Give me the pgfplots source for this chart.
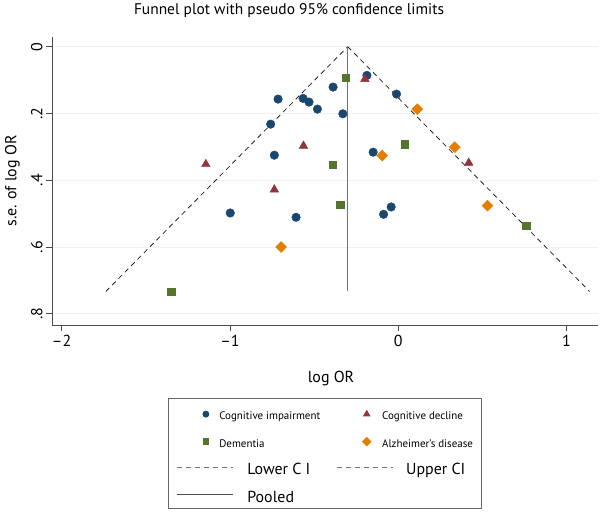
\documentclass[border=0pt]{standalone}
\usepackage{pgfplots}
\pgfplotsset{compat=1.18}
\usepackage{fontspec}
\setmainfont{PT Sans}
\definecolor{cnavy}{RGB}{26,71,111}
\definecolor{cmaroon}{RGB}{144,53,59}
\definecolor{cgreen}{RGB}{85,117,47}
\definecolor{corange}{RGB}{227,126,0}
\definecolor{gridc}{RGB}{234,242,243}
\begin{document}
\begin{tikzpicture}[x=1bp,y=1bp]
\useasboundingbox (0,0) rectangle (600,512);
\begin{axis}[
  at={(52bp,186.5bp)}, anchor=south west,
  scale only axis, width=546bp, height=288.5bp,
  xmin=-2.057, xmax=1.187, ymin=-0.029, ymax=0.835,
  y dir=reverse,
  axis x line=bottom, axis y line=left,
  axis line style={-, black!70, line width=0.8bp},
  tick align=outside, major tick length=6bp,
  tick style={black!70, line width=0.8bp},
  xtick={-2,-1,0,1}, xticklabels={--2,--1,0,1},
  ytick={0,0.2,0.4,0.6,0.8}, yticklabels={0,.2,.4,.6,.8},
  ymajorgrids, grid style={gridc, line width=0.8bp},
  tick label style={font=\fontsize{16}{16}\selectfont},
  yticklabel style={rotate=90, anchor=south},
  clip=false,
  legend columns=2, legend cell align=left,
  legend style={at={(0.2125,-0.2513)}, anchor=north west, draw=black!60,
    line width=0.8bp, inner xsep=8bp, inner ysep=0bp, column sep=0bp, row sep=0bp,
    nodes={inner sep=0bp, text height=21.5bp, text depth=6bp}},
]
\addplot[only marks, mark=*, mark size=4.3bp, cnavy,
  legend image code/.code={\path[draw=none] (0bp,0bp) -- (56bp,0bp);
    \draw[cnavy] plot[only marks, mark=*, mark size=3bp] coordinates {(29bp,-2bp)};}]
coordinates {
(-0.714,0.157) (-0.565,0.155) (-0.530,0.166) (-0.480,0.187) (-0.758,0.232)
(-0.736,0.325) (-0.186,0.086) (-0.387,0.121) (-0.329,0.201) (-0.010,0.142)
(-0.149,0.316) (-0.998,0.498) (-0.607,0.511) (-0.087,0.502) (-0.042,0.480)
};
\addlegendentry{\makebox[103bp][l]{\hspace*{-14bp}\fontsize{11}{11}\selectfont Cognitive impairment}}
\addplot[only marks, mark=triangle*, mark size=5bp, cmaroon,
  legend image code/.code={\path[draw=none] (0bp,0bp) -- (56bp,0bp);
    \draw[cmaroon] plot[only marks, mark=triangle*, mark size=3.6bp] coordinates {(30bp,-2bp)};}]
coordinates {
(-0.563,0.297) (-1.143,0.352) (-0.736,0.428) (-0.198,0.097) (0.419,0.348)
};
\addlegendentry{\makebox[80bp][l]{\hspace*{-11bp}\fontsize{11}{11}\selectfont Cognitive decline}}
\addplot[only marks, mark=square*, mark size=3.6bp, cgreen,
  legend image code/.code={\path[draw=none] (0bp,0bp) -- (56bp,0bp);
    \draw[cgreen] plot[only marks, mark=square*, mark size=2.8bp] coordinates {(29bp,-2bp)};}]
coordinates {
(-0.313,0.093) (0.040,0.292) (-0.387,0.353) (-1.349,0.733) (-0.345,0.474) (0.760,0.536)
};
\addlegendentry{\makebox[103bp][l]{\hspace*{-14bp}\fontsize{11}{11}\selectfont Dementia}}
\addplot[only marks, mark=square*, mark size=3.9bp, mark options={rotate=45}, corange,
  legend image code/.code={\path[draw=none] (0bp,0bp) -- (56bp,0bp);
    \draw[corange] plot[only marks, mark=square*, mark size=3bp, mark options={rotate=45}] coordinates {(30bp,-2bp)};}]
coordinates {
(0.113,0.187) (-0.095,0.326) (0.336,0.301) (-0.696,0.600) (0.530,0.476)
};
\addlegendentry{\makebox[80bp][l]{\hspace*{-11bp}\fontsize{11}{11}\selectfont Alzheimer's disease}}
\addplot[black!85, line width=0.8bp, dash pattern=on 5bp off 4bp,
  legend image code/.code={\draw[black!55, line width=0.8bp, dash pattern=on 5bp off 4bp] (0bp,0bp) -- (56bp,0bp);}]
coordinates {(-1.737,0.733) (-0.300,0)};
\addlegendentry{\makebox[103bp][l]{\hspace*{14bp}\fontsize{16}{16}\selectfont Lower C I}}
\addplot[black!85, line width=0.8bp, dash pattern=on 5bp off 4bp,
  legend image code/.code={\draw[black!55, line width=0.8bp, dash pattern=on 5bp off 4bp] (0bp,0bp) -- (56bp,0bp);}]
coordinates {(-0.300,0) (1.137,0.733)};
\addlegendentry{\makebox[80bp][l]{\hspace*{13bp}\fontsize{16}{16}\selectfont Upper CI}}
\addplot[black!55, line width=1.1bp,
  legend image code/.code={\draw[black!70, line width=0.9bp] (0bp,0bp) -- (56bp,0bp);}]
coordinates {(-0.300,0) (-0.300,0.733)};
\addlegendentry{\makebox[103bp][l]{\hspace*{14bp}\fontsize{16}{16}\selectfont Pooled}}
\end{axis}
\node at (289,501) {\fontsize{15.5}{15.5}\selectfont Funnel plot with pseudo 95\% confidence limits};
\node[rotate=90] at (12.5,331) {\fontsize{16}{16}\selectfont s.e. of log OR};
\node at (331,133) {\fontsize{16}{16}\selectfont log OR};
\end{tikzpicture}
\end{document}
